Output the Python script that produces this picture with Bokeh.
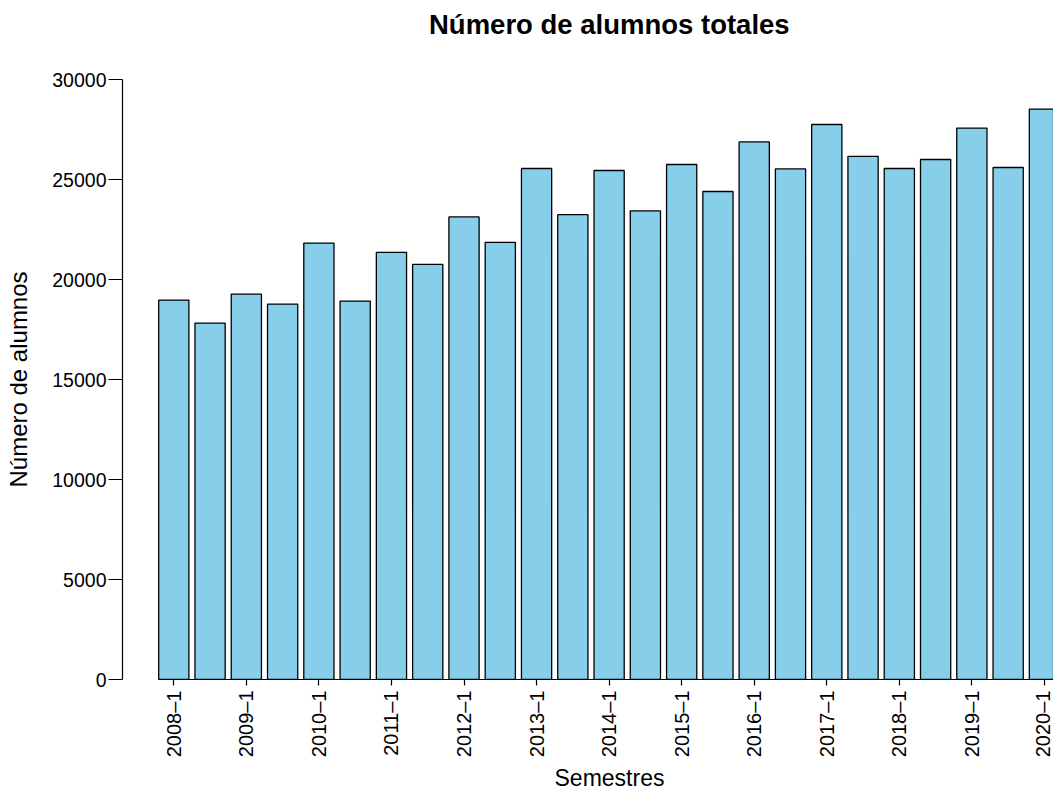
import math
from bokeh.plotting import figure
from bokeh.models import ColumnDataSource, Range1d, FixedTicker, Title, LinearAxis
from bokeh.embed import file_html
from bokeh.resources import INLINE

semestres = ["2008–1", "2008–2", "2009–1", "2009–2", "2010–1", "2010–2",
             "2011–1", "2011–2", "2012–1", "2012–2", "2013–1", "2013–2",
             "2014–1", "2014–2", "2015–1", "2015–2", "2016–1", "2016–2",
             "2017–1", "2017–2", "2018–1", "2018–2", "2019–1", "2019–2",
             "2020–1"]
alumnos = [18970, 17820, 19270, 18770, 21820, 18920, 21360, 20760, 23130,
           21860, 25550, 23240, 25450, 23430, 25750, 24400, 26880, 25530,
           27750, 26160, 25550, 26000, 27570, 25600, 28520]
y_ticks = [0, 5000, 10000, 15000, 20000, 25000, 30000]

FONT = "Liberation Sans"

idx = list(range(len(semestres)))
mid = (len(semestres) - 1) // 2
src = ColumnDataSource(dict(x=idx, top=alumnos, name=semestres))

p = figure(frame_width=931, frame_height=600,
           x_range=Range1d(-1.414, 24.25), y_range=Range1d(0, 30000),
           output_backend="svg", toolbar_location=None,
           min_border_left=122, min_border_right=0, min_border_top=79,
           min_border_bottom=111)
p.outline_line_color = None
p.xgrid.visible = False
p.ygrid.visible = False
p.background_fill_color = "white"
p.border_fill_color = "white"

p.vbar(x="x", top="top", width=0.833, bottom=0, source=src,
       fill_color="#87CEEB", line_color="black", line_width=1.3)

# the figure's own axes (grab them before any other axis is added)
xa = p.below[0]
ya = p.left[0]

# y axis
ya.ticker = FixedTicker(ticks=y_ticks)
ya.bounds = (0, 30000)
ya.major_tick_out = 14
ya.major_tick_in = 0
ya.minor_tick_line_color = None
ya.major_label_standoff = 2
ya.major_label_text_font = FONT
ya.major_label_text_font_size = "19.5px"
ya.major_label_text_color = "black"
ya.axis_line_color = "black"
ya.major_tick_line_color = "black"
ya.axis_line_width = 1.2
ya.major_tick_line_width = 1.2
ya.axis_label = "Número de alumnos"
ya.axis_label_text_font = FONT
ya.axis_label_text_font_size = "24px"
ya.axis_label_text_font_style = "normal"
ya.axis_label_text_color = "black"
ya.axis_label_standoff = 17

# x axis
even = idx[::2]
xa.ticker = FixedTicker(ticks=even)
xa.major_label_overrides = {i: semestres[i] for i in even}
xa.major_label_orientation = math.pi / 2
xa.bounds = (-0.4165, 24.4165)
xa.major_tick_out = 6
xa.major_tick_in = 0
xa.minor_tick_line_color = None
xa.major_label_standoff = 5
xa.major_label_text_font = FONT
xa.major_label_text_font_size = "20px"
xa.major_label_text_color = "black"
xa.axis_line_color = "black"
xa.axis_line_width = 1.2
xa.major_tick_line_width = 1.2

# invisible spacer between the frame and the main title
spacer = LinearAxis(ticker=FixedTicker(ticks=[mid]), axis_line_color=None,
                    major_tick_line_color=None, minor_tick_line_color=None,
                    major_tick_out=35, major_tick_in=0, minor_tick_out=0,
                    minor_tick_in=0, major_label_standoff=0,
                    major_label_overrides={mid: ""},
                    major_label_text_font_size="0px")
p.add_layout(spacer, "above")

# main title
main_title = Title(text="Número de alumnos totales", align="left",
                   offset=306.5, text_font=FONT, text_font_size="27.5px",
                   text_font_style="bold", text_color="black", standoff=10)
p.add_layout(main_title, "above")

# x axis title, centred under the full plot region
xt = Title(text="Semestres", align="left", offset=432,
           text_font=FONT, text_font_size="23px", text_font_style="normal",
           text_color="black", standoff=4)
p.add_layout(xt, "below")

open("out.html", "w").write(file_html(p, INLINE))
